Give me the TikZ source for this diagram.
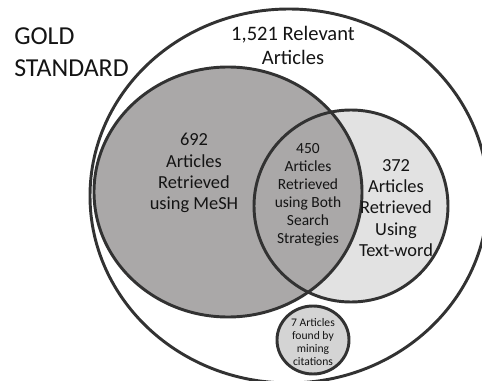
\documentclass[tikz,border=0pt]{standalone}
\usepackage{fontspec}
\setmainfont{Carlito}

\begin{document}
\begin{tikzpicture}[x=0.75pt,y=0.75pt,yscale=-1,xscale=1,
	venn/.style={line width=2.2pt, draw={rgb, 255:red, 50; green, 50; blue, 50}},
	txt/.style={inner sep=0pt, align=center, text={rgb, 255:red, 20; green, 20; blue, 20}}]
	\useasboundingbox (0,0) rectangle (482,381);
	\clip (0,0) rectangle (482,381);

	% gold standard
	\draw [venn] (289,196) ellipse [x radius=199, y radius=187];
	% text-word and mesh
	\fill [color={rgb, 255:red, 226; green, 226; blue, 226 }] (351,206) ellipse [x radius=97, y radius=96];
	\fill [color={rgb, 255:red, 170; green, 168; blue, 168 }] (228,192) ellipse [x radius=134, y radius=125];
	\draw [venn] (351,206) ellipse [x radius=97, y radius=96];
	\draw [venn] (228,192) ellipse [x radius=134, y radius=125];
	% citations
	\draw [venn, fill={rgb, 255:red, 212; green, 212; blue, 212 }] (313,340) ellipse [x radius=36, y radius=34];

	\node [txt, anchor=west, align=left, font=\fontsize{19.4}{24}\selectfont] (gold) at (14,52.5) {GOLD\\STANDARD};
	\node [txt, font=\fontsize{15.4}{18}\selectfont] (relevant) at (293,45) {1,521 Relevant\\Articles};
	\node [txt, font=\fontsize{13.8}{15.9}\selectfont] (mesh) at (194,173) {692\\Articles\\Retrieved\\using MeSH};
	\node [txt, font=\fontsize{11.6}{13.5}\selectfont] (both) at (308,195) {450\\Articles\\Retrieved\\using Both\\Search\\Strategies};
	\node [txt, font=\fontsize{13.8}{15.9}\selectfont] (textword) at (396,208) {372\\Articles\\Retrieved\\Using\\Text-word};
	\node [txt, font=\fontsize{8.7}{9.75}\selectfont] (mining) at (313,342.5) {7 Articles\\found by\\mining\\citations};
\end{tikzpicture}
\end{document}
